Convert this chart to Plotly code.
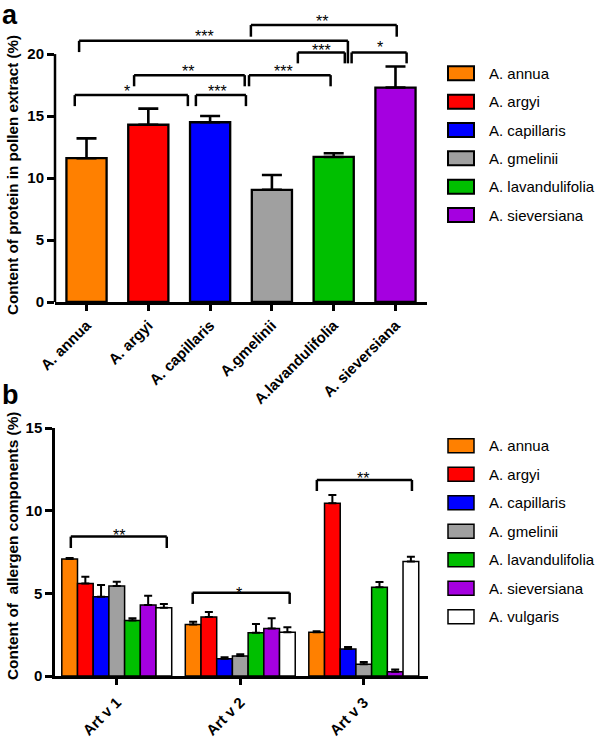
import plotly.graph_objects as go

W, H = 598, 741

# ---------------- data ----------------
species = ["A. annua", "A. argyi", "A. capillaris", "A. gmelinii",
           "A. lavandulifolia", "A. sieversiana", "A. vulgaris"]
colors = ["#FF8000", "#FF0000", "#0000FF", "#A0A0A0", "#00BF00", "#A500E0", "#FFFFFF"]

# panel a
a_categories = ["A. annua", "A. argyi", "A. capillaris", "A.gmelinii",
                "A.lavandulifolia", "A. sieversiana"]
protein = [11.6, 14.3, 14.5, 9.05, 11.7, 17.3]
protein_err = [1.6, 1.3, 0.5, 1.2, 0.3, 1.7]

# panel b
allergens = ["Art v 1", "Art v 2", "Art v 3"]
b_annua = [7.08, 3.12, 2.64]
b_argyi = [5.6, 3.57, 10.45]
b_capillaris = [4.8, 1.05, 1.63]
b_gmelinii = [5.45, 1.21, 0.71]
b_lavandulifolia = [3.35, 2.62, 5.37]
b_sieversiana = [4.3, 2.88, 0.26]
b_vulgaris = [4.13, 2.64, 6.92]
b_annua_err = [0.05, 0.16, 0.06]
b_argyi_err = [0.4, 0.3, 0.5]
b_capillaris_err = [0.7, 0.08, 0.12]
b_gmelinii_err = [0.25, 0.1, 0.14]
b_lavandulifolia_err = [0.15, 0.53, 0.32]
b_sieversiana_err = [0.55, 0.61, 0.14]
b_vulgaris_err = [0.23, 0.31, 0.3]

# significance brackets: x0, x1, y_top, y_leg_left, y_leg_right, label, text_x, text_y
a_brackets = [
    (-0.19, 1.64, 16.69, 15.8, 15.8, "*", 0.65, 17.26),
    (1.77, 2.58, 16.69, 15.8, 15.8, "***", 2.12, 17.26),
    (0.77, 2.56, 18.3, 17.4, 17.4, "**", 1.64, 18.87),
    (2.63, 3.95, 18.3, 17.4, 17.4, "***", 3.18, 18.87),
    (3.42, 4.18, 20.13, 19.25, 19.25, "***", 3.81, 20.56),
    (4.29, 5.18, 20.13, 19.25, 19.25, "*", 4.75, 20.8),
    (-0.12, 4.23, 21.07, 20.16, 19.25, "***", 1.91, 21.69),
    (2.66, 5.02, 22.34, 21.4, 21.4, "**", 3.81, 22.9),
]
b_brackets = [
    (-0.372, 0.405, 8.43, 7.74, 7.74, "**", 0.016, 8.67),
    (0.615, 1.40, 5.04, 4.36, 4.36, "*", 0.988, 5.2),
    (1.62, 2.39, 11.86, 11.19, 11.19, "**", 1.99, 12.1),
]

b_values = [b_annua, b_argyi, b_capillaris, b_gmelinii, b_lavandulifolia, b_sieversiana, b_vulgaris]
b_errors = [b_annua_err, b_argyi_err, b_capillaris_err, b_gmelinii_err,
            b_lavandulifolia_err, b_sieversiana_err, b_vulgaris_err]

# ---------------- layout helpers ----------------
def px(x):
    return x / W

def py(y):
    return 1 - y / H

FONT = "Liberation Sans, Arial, Helvetica, sans-serif"

fig = go.Figure()

# panel a bars
fig.add_trace(go.Bar(
    x=a_categories, y=protein, width=0.65,
    marker=dict(color=colors[:6], line=dict(color="black", width=2.3)),
    error_y=dict(type="data", array=protein_err, symmetric=False,
                 color="black", thickness=2.6, width=10),
    xaxis="x", yaxis="y", showlegend=False,
))

# panel b bars
for name, vals, errs, col in zip(species, b_values, b_errors, colors):
    fig.add_trace(go.Bar(
        x=allergens, y=vals, name=name,
        marker=dict(color=col, line=dict(color="black", width=1.5)),
        error_y=dict(type="data", array=errs, symmetric=False,
                     color="black", thickness=2, width=4),
        xaxis="x2", yaxis="y2", showlegend=False,
    ))

def axis_common(fs):
    return dict(showgrid=False, zeroline=False, ticks="outside", automargin=False,
                tickcolor="black", tickwidth=2.5,
                tickfont=dict(family=FONT, size=fs, color="black", weight="bold"))

fig.update_layout(
    width=W, height=H,
    margin=dict(l=0, r=0, t=0, b=0, autoexpand=False),
    paper_bgcolor="white", plot_bgcolor="white",
    barmode="group", bargap=0.11, bargroupgap=0,
    xaxis=dict(domain=[px(55), px(427)], anchor="y", type="category",
               range=[-0.51, 5.51], showline=True, linecolor="black", linewidth=2.5,
               ticklen=6, tickangle=-45, **axis_common(15)),
    yaxis=dict(domain=[py(302), py(2)], anchor="x", range=[0, 24.2],
               tickvals=[0, 5, 10, 15, 20], showline=False, ticklen=7, **axis_common(15)),
    xaxis2=dict(domain=[px(55), px(428)], anchor="y2", type="category",
                range=[-0.5, 2.52], showline=True, linecolor="black", linewidth=2.5,
                ticklen=6, tickangle=-45, ticklabelstandoff=3, **axis_common(15)),
    yaxis2=dict(domain=[py(676), py(428)], anchor="x2", range=[0, 15],
                tickvals=[0, 5, 10, 15], showline=True, linecolor="black", linewidth=2.5,
                ticklen=7, **axis_common(15)),
)

shapes = []
annotations = []

# y axis line of panel a (only up to 20)
shapes.append(dict(type="line", xref="paper", yref="y", x0=px(55), x1=px(55), y0=0, y1=20,
                   line=dict(color="black", width=2.5)))

def add_brackets(brackets, xr, yr, lw, fs):
    for x0, x1, yt, yl0, yl1, lab, tx, ty in brackets:
        for (a0, b0, a1, b1) in [(x0, yl0, x0, yt), (x0, yt, x1, yt), (x1, yt, x1, yl1)]:
            shapes.append(dict(type="line", xref=xr, yref=yr, x0=a0, y0=b0, x1=a1, y1=b1,
                               line=dict(color="black", width=lw)))
        annotations.append(dict(x=tx, y=ty, xref=xr, yref=yr, text=lab, showarrow=False,
                                xanchor="center", yanchor="middle", yshift=-3,
                                font=dict(family=FONT, size=fs, color="black")))

add_brackets(a_brackets, "x", "y", 2.5, 16)
add_brackets(b_brackets, "x2", "y2", 2.5, 16)

# manual legends
def add_legend(names, cols, y_rows, lw):
    for n, c, yc in zip(names, cols, y_rows):
        shapes.append(dict(type="rect", xref="paper", yref="paper",
                           x0=px(448), x1=px(474), y0=py(yc + 7), y1=py(yc - 7),
                           fillcolor=c, line=dict(color="black", width=lw)))
        annotations.append(dict(x=px(487), y=py(yc), xref="paper", yref="paper",
                                text=n, showarrow=False, xanchor="left", yanchor="middle",
                                font=dict(family=FONT, size=15, color="black")))

add_legend(species[:6], colors[:6], [73.3 + 28.35 * i for i in range(6)], 2)
add_legend(species, colors, [445.7 + 28.5 * i for i in range(7)], 1.5)

# y titles
annotations.append(dict(x=px(12), y=py(175), xref="paper", yref="paper",
                        text="Content of protein in pollen extract (%)", textangle=-90,
                        showarrow=False, xanchor="center", yanchor="middle",
                        font=dict(family=FONT, size=15.2, color="black", weight="bold")))
annotations.append(dict(x=px(12), y=py(546), xref="paper", yref="paper",
                        text="Content of&nbsp; allergen components (%)", textangle=-90,
                        showarrow=False, xanchor="center", yanchor="middle",
                        font=dict(family=FONT, size=15.4, color="black", weight="bold")))

# panel letters
annotations.append(dict(x=0, y=py(-2), xref="paper", yref="paper", text="a", showarrow=False,
                        xanchor="left", yanchor="top",
                        font=dict(family=FONT, size=27, color="black", weight="bold")))
annotations.append(dict(x=0, y=py(378), xref="paper", yref="paper", text="b", showarrow=False,
                        xanchor="left", yanchor="top",
                        font=dict(family=FONT, size=27, color="black", weight="bold")))

fig.update_layout(shapes=shapes, annotations=annotations)

fig.write_html("out.html", config={"displayModeBar": False},
               post_script="document.body.style.margin='0px';document.body.style.overflow='hidden';")
